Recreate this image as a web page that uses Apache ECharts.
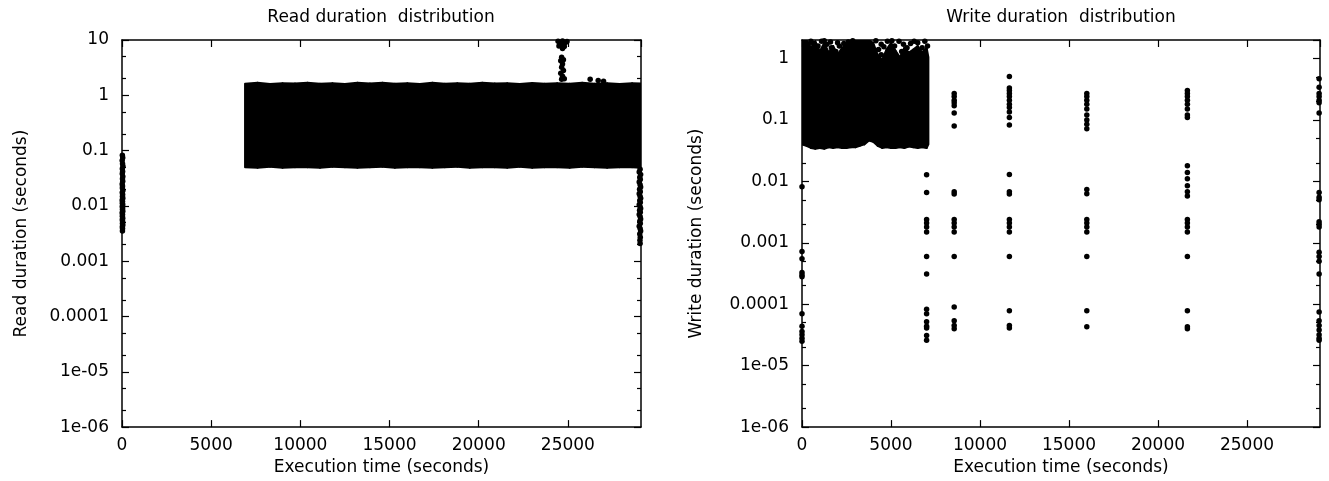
<!DOCTYPE html>
<html>
<head>
<meta charset="utf-8">
<title>Read and write duration distribution</title>
<script src="https://cdn.jsdelivr.net/npm/echarts@6/dist/echarts.min.js"></script>
<style>
  html, body { margin: 0; padding: 0; background: #fff; }
  #chart { width: 1329px; height: 481px; }
</style>
</head>
<body>
<div id="chart"></div>
<script>
// ---- axis ticks ----
const timeTicks = [0, 5000, 10000, 15000, 20000, 25000];
const durationTickLabels = ['1e-06', '1e-05', '0.0001', '0.001', '0.01', '0.1', '1', '10']; // 10^-6 .. 10^1
const minorMantissas = [2, 5];

// ---- read durations ----
// dense band of reads: envelope of the point cloud
const readBandTimes = [6900, 7600, 8300, 9000, 9700, 10400, 11100, 11800, 12500, 13200, 13900, 14600, 15300, 16000, 16700, 17400, 18100, 18800, 19500, 20200, 20900, 21600, 22300, 23000, 23700, 24400, 25100, 25800, 26500, 27200, 27900, 28600, 29150];
const readBandTop = [1.62, 1.68, 1.6, 1.66, 1.63, 1.69, 1.61, 1.65, 1.6, 1.68, 1.63, 1.69, 1.61, 1.65, 1.6, 1.68, 1.62, 1.66, 1.61, 1.69, 1.63, 1.65, 1.6, 1.67, 1.62, 1.66, 1.62, 1.68, 1.62, 1.65, 1.6, 1.66, 1.63];
const readBandBottom = [0.05, 0.049, 0.051, 0.049, 0.05, 0.05, 0.049, 0.051, 0.05, 0.049, 0.05, 0.051, 0.049, 0.05, 0.05, 0.049, 0.05, 0.051, 0.049, 0.05, 0.05, 0.049, 0.051, 0.049, 0.05, 0.05, 0.049, 0.051, 0.05, 0.049, 0.05, 0.05, 0.049];

// reads at start-up
const readStart = [[20, 0.082], [40, 0.074], [10, 0.066], [30, 0.058], [50, 0.052], [20, 0.047], [35, 0.042], [15, 0.038], [45, 0.034], [25, 0.031], [40, 0.028], [10, 0.025], [30, 0.023], [20, 0.021], [50, 0.019], [15, 0.0175], [35, 0.016], [25, 0.0148], [45, 0.0137], [10, 0.0128], [30, 0.012], [20, 0.0112], [40, 0.0105], [15, 0.0098], [35, 0.0092], [25, 0.0086], [45, 0.008], [10, 0.0075], [30, 0.007], [20, 0.0065], [40, 0.006], [15, 0.0056], [35, 0.0052], [25, 0.0048], [45, 0.0045], [20, 0.0042], [30, 0.0039], [25, 0.0035]];
// reads at the end of the run
const readEnd = [[29050, 0.046], [29000, 0.041], [29080, 0.037], [29030, 0.033], [29060, 0.03], [29000, 0.027], [29050, 0.024], [29080, 0.022], [29020, 0.02], [29060, 0.018], [29000, 0.0165], [29050, 0.015], [29080, 0.0137], [29030, 0.0125], [29060, 0.0115], [29000, 0.0105], [29050, 0.0097], [29080, 0.009], [29020, 0.0083], [29060, 0.0077], [29000, 0.007], [29050, 0.0064], [29080, 0.0058], [29030, 0.0053], [29060, 0.0048], [29000, 0.0043], [29050, 0.0039], [29080, 0.0035], [29030, 0.0031], [29060, 0.0027], [29040, 0.0024], [29050, 0.0021]];
// slow reads around t = 24700 s and a few above the band
const readSlow = [[24450, 9.5], [24700, 9.6], [24950, 9.4], [24550, 8.8], [24850, 8.9], [24650, 8.2], [24500, 7.8], [24800, 7.6], [24700, 7.0], [24650, 4.9], [24600, 4.2], [24750, 4.4], [24700, 3.7], [24650, 3.2], [24750, 2.8], [24600, 2.5], [24700, 2.2], [24650, 1.95], [24800, 2.0], [26250, 1.95], [26700, 1.85], [27000, 1.8]];

// ---- write durations ----
const writeBandTimes = [0, 250, 500, 750, 1000, 1250, 1500, 1750, 2000, 2250, 2500, 2750, 3000, 3250, 3500, 3750, 4000, 4250, 4500, 4750, 5000, 5250, 5500, 5750, 6000, 6250, 6500, 6750, 7000, 7100];
const writeBandTop = [2.0, 2.0, 1.5, 1.9, 1.3, 1.8, 1.25, 1.6, 1.15, 1.5, 1.7, 1.8, 2.0, 2.0, 2.0, 2.0, 1.8, 1.15, 0.95, 1.4, 1.8, 1.35, 1.05, 1.5, 1.25, 1.4, 1.6, 1.25, 1.5, 1.05];
const writeBandBottom = [0.04, 0.038, 0.035, 0.034, 0.035, 0.034, 0.036, 0.035, 0.036, 0.035, 0.035, 0.036, 0.036, 0.038, 0.04, 0.046, 0.044, 0.038, 0.035, 0.036, 0.035, 0.035, 0.036, 0.035, 0.037, 0.036, 0.035, 0.036, 0.035, 0.04];
// scattered slow writes above the dense part
const writeBandSpread = [[350, 1.7], [500, 1.9], [650, 1.75], [900, 1.6], [1100, 1.9], [1250, 1.95], [1400, 1.7], [1600, 1.85], [1650, 1.5], [1900, 1.3], [2000, 1.8], [2100, 1.6], [2350, 1.75], [2600, 1.85], [2850, 1.95], [4150, 1.95], [4300, 1.4], [4450, 1.15], [4450, 1.7], [4600, 1.55], [4800, 1.9], [5050, 1.95], [5200, 1.6], [5450, 1.9], [5600, 1.3], [5700, 1.7], [5900, 1.5], [6100, 1.75], [6300, 1.9], [6500, 1.8], [6750, 1.5], [6900, 1.9], [7050, 1.6]];
const writeStart = [[0, 0.0082], [0, 0.00072], [0, 0.00055], [0, 0.00033], [0, 0.0003], [0, 0.00028], [0, 7e-5], [0, 4.4e-5], [0, 3.6e-5], [0, 3.2e-5], [0, 2.8e-5], [0, 2.5e-5]];
const writeCheckpointA = [[7000, 0.0128], [7000, 0.0066], [7000, 0.0024], [7000, 0.0021], [7000, 0.0018], [7000, 0.0015], [7000, 0.0006], [7000, 0.00031], [7000, 8.3e-5], [7000, 7e-5], [7000, 5.2e-5], [7000, 4.4e-5], [7000, 4.1e-5], [7000, 3.1e-5], [7000, 2.6e-5]];
const writeCheckpointB = [[8550, 0.27], [8550, 0.24], [8550, 0.21], [8550, 0.19], [8550, 0.17], [8550, 0.13], [8550, 0.08], [8550, 0.0068], [8550, 0.0062], [8550, 0.0024], [8550, 0.0021], [8550, 0.0018], [8550, 0.0015], [8550, 0.0006], [8550, 9e-5], [8550, 5.4e-5], [8550, 4.5e-5], [8550, 4e-5]];
const writeCheckpointC = [[11650, 0.51], [11650, 0.33], [11650, 0.3], [11650, 0.27], [11650, 0.24], [11650, 0.21], [11650, 0.18], [11650, 0.16], [11650, 0.134], [11650, 0.11], [11650, 0.083], [11650, 0.0129], [11650, 0.0068], [11650, 0.0062], [11650, 0.0024], [11650, 0.0021], [11650, 0.0018], [11650, 0.0015], [11650, 0.0006], [11650, 7.8e-5], [11650, 4.5e-5], [11650, 4.1e-5]];
const writeCheckpointD = [[16000, 0.27], [16000, 0.24], [16000, 0.21], [16000, 0.18], [16000, 0.15], [16000, 0.12], [16000, 0.1], [16000, 0.085], [16000, 0.072], [16000, 0.0074], [16000, 0.0063], [16000, 0.0024], [16000, 0.0021], [16000, 0.0018], [16000, 0.0015], [16000, 0.0006], [16000, 7.8e-5], [16000, 4.3e-5]];
const writeCheckpointE = [[21650, 0.3], [21650, 0.27], [21650, 0.24], [21650, 0.21], [21650, 0.18], [21650, 0.15], [21650, 0.12], [21650, 0.11], [21650, 0.018], [21650, 0.014], [21650, 0.011], [21650, 0.0085], [21650, 0.0068], [21650, 0.0058], [21650, 0.0024], [21650, 0.0021], [21650, 0.0018], [21650, 0.0015], [21650, 0.0006], [21650, 7.8e-5], [21650, 4.3e-5], [21650, 4e-5]];
const writeEnd = [[29050, 0.47], [29050, 0.34], [29050, 0.27], [29050, 0.24], [29050, 0.21], [29050, 0.19], [29050, 0.13], [29050, 0.0066], [29050, 0.0055], [29050, 0.005], [29050, 0.0022], [29050, 0.002], [29050, 0.0018], [29050, 0.0007], [29050, 0.0006], [29050, 0.0005], [29050, 0.00031], [29050, 7.5e-5], [29050, 5.4e-5], [29050, 4.5e-5], [29050, 3.8e-5], [29050, 3.2e-5], [29050, 2.8e-5], [29050, 2.6e-5]];

// ---- helpers ----
const FONT = '"DejaVu Sans", sans-serif';
const INK = '#000';

function bandSegments(times, top, bottom) {
  const segs = [];
  for (let i = 0; i < times.length - 1; i++) {
    segs.push([times[i], times[i + 1], top[i], top[i + 1], bottom[i], bottom[i + 1]]);
  }
  return segs;
}

function renderBand(params, api) {
  const pts = [
    api.coord([api.value(0), api.value(4)]),
    api.coord([api.value(0), api.value(2)]),
    api.coord([api.value(1), api.value(3)]),
    api.coord([api.value(1), api.value(5)])
  ];
  return {
    type: 'polygon',
    shape: { points: pts },
    style: { fill: INK, stroke: INK, lineWidth: 2, lineJoin: 'round' }
  };
}

function durationLabel(v) {
  const e = Math.round(Math.log10(v));
  return durationTickLabels[e + 6] || '';
}

function minorTickExponents(minExp, maxLog) {
  const out = [];
  for (let e = minExp; e < Math.ceil(maxLog); e++) {
    minorMantissas.forEach(m => {
      const v = e + Math.log10(m);
      if (v < maxLog) out.push(v);
    });
  }
  return out;
}

const axisLineStyle = { color: INK, width: 1.5 };
const labelStyle = { color: INK, fontFamily: FONT, fontSize: 17 };

function timeAxes(gridIndex, max) {
  return [
    {
      type: 'value', gridIndex, position: 'bottom', min: 0, max, interval: 5000,
      name: 'Execution time (seconds)', nameLocation: 'middle', nameGap: 29,
      nameTextStyle: { color: INK, fontFamily: FONT, fontSize: 17 },
      axisLine: { onZero: false, lineStyle: axisLineStyle },
      axisTick: { inside: true, length: 7, lineStyle: { color: INK, width: 1.2 } },
      axisLabel: { ...labelStyle, margin: 10, showMaxLabel: false, formatter: v => (timeTicks.indexOf(v) >= 0 ? String(v) : '') },
      splitLine: { show: false }
    },
    {
      type: 'value', gridIndex, position: 'top', min: 0, max, interval: 5000,
      axisLine: { onZero: false, lineStyle: axisLineStyle },
      axisTick: { inside: true, length: 7, lineStyle: { color: INK, width: 1.2 } },
      axisLabel: { show: false },
      splitLine: { show: false }
    }
  ];
}

function durationAxes(gridIndex, min, max, name, nameGap) {
  const minExp = Math.round(Math.log10(min));
  const maxLog = Math.log10(max);
  const minorTicks = minorTickExponents(minExp, maxLog);
  const major = (position, withLabels) => ({
    type: 'log', logBase: 10, gridIndex, position, min, max, splitNumber: 10,
    name: withLabels ? name : '', nameLocation: 'middle', nameGap,
    nameTextStyle: { color: INK, fontFamily: FONT, fontSize: 17 },
    axisLine: { onZero: false, lineStyle: axisLineStyle },
    axisTick: { inside: true, length: 7, lineStyle: { color: INK, width: 1.2 } },
    axisLabel: withLabels ? { ...labelStyle, margin: 13, showMaxLabel: Math.abs(maxLog - Math.round(maxLog)) < 1e-9, formatter: durationLabel } : { show: false },
    splitLine: { show: false }
  });
  const minor = (position) => ({
    type: 'value', gridIndex, position, min: minExp, max: maxLog,
    axisLine: { show: false, onZero: false },
    axisTick: { inside: true, length: 4, customValues: minorTicks, lineStyle: { color: INK, width: 1.2 } },
    axisLabel: { show: false },
    splitLine: { show: false }
  });
  return [major('left', true), major('right', false), minor('left'), minor('right')];
}

const dot = (data, xAxisIndex, yAxisIndex) => ({
  type: 'scatter', data, xAxisIndex, yAxisIndex,
  symbol: 'circle', symbolSize: 5.5, itemStyle: { color: INK, opacity: 1 }, silent: true, animation: false
});
const band = (data, xAxisIndex, yAxisIndex) => ({
  type: 'custom', data, xAxisIndex, yAxisIndex, clip: true,
  encode: { x: [0, 1], y: [2, 3, 4, 5] }, renderItem: renderBand, silent: true, animation: false
});

const chart = echarts.init(document.getElementById('chart'), null, { renderer: 'canvas' });

chart.setOption({
  backgroundColor: '#fff',
  animation: false,
  graphic: [
    { type: 'text', x: 381, y: 18, style: { text: 'Read duration  distribution', font: '17px ' + FONT, fill: INK, textAlign: 'center', textVerticalAlign: 'middle' } },
    { type: 'text', x: 1061, y: 18, style: { text: 'Write duration  distribution', font: '17px ' + FONT, fill: INK, textAlign: 'center', textVerticalAlign: 'middle' } }
  ],
  grid: [
    { left: 122, top: 40, width: 519, height: 390 },
    { left: 802, top: 40, width: 518, height: 389 }
  ],
  xAxis: [...timeAxes(0, 29100), ...timeAxes(1, 29100)],
  yAxis: [
    ...durationAxes(0, 1e-6, 10, 'Read duration (seconds)', 92),
    ...durationAxes(1, 1e-6, 2, 'Write duration (seconds)', 97)
  ],
  series: [
    band(bandSegments(readBandTimes, readBandTop, readBandBottom), 0, 0),
    dot(readStart, 0, 0),
    dot(readEnd, 0, 0),
    dot(readSlow, 0, 0),
    band(bandSegments(writeBandTimes, writeBandTop, writeBandBottom), 2, 4),
    dot(writeBandSpread, 2, 4),
    dot(writeStart, 2, 4),
    dot(writeCheckpointA, 2, 4),
    dot(writeCheckpointB, 2, 4),
    dot(writeCheckpointC, 2, 4),
    dot(writeCheckpointD, 2, 4),
    dot(writeCheckpointE, 2, 4),
    dot(writeEnd, 2, 4)
  ]
});
</script>
</body>
</html>
